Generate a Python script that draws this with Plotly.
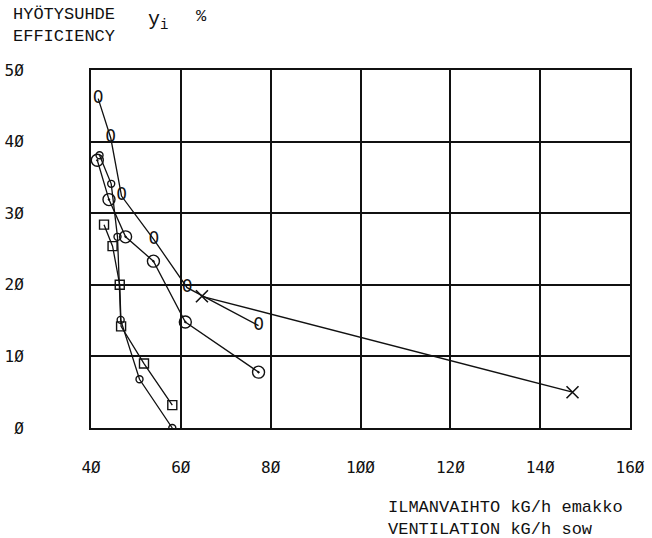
import plotly.graph_objects as go

# Ventilation (kG/h per sow) and efficiency y_i (%) for each measured series
oval_x = [41.6, 44.4, 46.8, 54.0, 61.4, 77.3]
oval_y = [46.0, 40.5, 32.4, 26.3, 19.6, 14.3]

small_x = [41.9, 44.5, 45.9, 46.6, 50.8, 58.1]
small_y = [38.1, 34.1, 26.7, 15.1, 6.8, 0.0]

dot_x = [41.4, 44.0, 47.7, 53.9, 61.0, 77.3]
dot_y = [37.4, 31.9, 26.7, 23.3, 14.8, 7.8]

sq_x = [42.9, 44.8, 46.4, 46.7, 51.8, 58.1]
sq_y = [28.4, 25.4, 20.0, 14.2, 9.0, 3.2]

cross_x = [64.7, 147.2]
cross_y = [18.4, 5.0]

x_ticks = [40, 60, 80, 100, 120, 140, 160]
x_labels = ["4Ø", "6Ø", "8Ø", "1ØØ", "12Ø", "14Ø", "16Ø"]
y_ticks = [0, 10, 20, 30, 40, 50]
y_labels = ["Ø", "1Ø", "2Ø", "3Ø", "4Ø", "5Ø"]

INK = "#111111"
LINE = dict(color=INK, width=1.3)

fig = go.Figure()

# oval markers drawn as "0" glyphs centred on the points
fig.add_trace(go.Scatter(x=oval_x, y=oval_y, mode="lines", line=LINE,
                         hoverinfo="skip", showlegend=False))
fig.add_trace(go.Scatter(x=oval_x, y=oval_y, mode="text", text=["0"] * len(oval_x),
                         textposition="middle center",
                         textfont=dict(family="DejaVu Sans", size=17, color=INK),
                         showlegend=False))

fig.add_trace(go.Scatter(x=small_x, y=small_y, mode="lines+markers", line=LINE,
                         marker=dict(symbol="circle-open", size=7, color=INK,
                                     line=dict(width=1.4, color=INK)),
                         showlegend=False))

fig.add_trace(go.Scatter(x=dot_x, y=dot_y, mode="lines+markers", line=LINE,
                         marker=dict(symbol="circle-open-dot", size=12, color=INK,
                                     line=dict(width=1.4, color=INK)),
                         showlegend=False))

fig.add_trace(go.Scatter(x=sq_x, y=sq_y, mode="lines+markers", line=LINE,
                         marker=dict(symbol="square-open", size=9, color=INK,
                                     line=dict(width=1.4, color=INK)),
                         showlegend=False))

fig.add_trace(go.Scatter(x=cross_x, y=cross_y, mode="lines+markers", line=LINE,
                         marker=dict(symbol="x-thin-open", size=12, color=INK,
                                     line=dict(width=1.6, color=INK)),
                         showlegend=False))

tick_font = dict(family="DejaVu Sans Mono", size=16, color=INK)
type_font = dict(family="Liberation Mono", size=17, color=INK)

fig.update_xaxes(range=[40, 160], tickvals=x_ticks, ticktext=x_labels,
                 showgrid=True, gridcolor=INK, gridwidth=1.5,
                 showline=True, linecolor=INK, linewidth=2, mirror=True,
                 zeroline=False, ticks="", tickfont=tick_font,
                 ticklabelstandoff=24, automargin=False)
fig.update_yaxes(range=[0, 50], tickvals=y_ticks, ticktext=y_labels,
                 showgrid=True, gridcolor=INK, gridwidth=1.5,
                 showline=True, linecolor=INK, linewidth=2, mirror=True,
                 zeroline=False, ticks="", tickfont=tick_font,
                 ticklabelstandoff=62, automargin=False)

L, R, T, B = 91, 22, 70, 110
W, H = 652, 538
pw, ph = W - L - R, H - T - B


def px(xp, yp):
    return (xp - L) / pw, (H - B - yp) / ph


annots = []
for txt, xp, yp in [("HYÖTYSUHDE", 11, 15), ("EFFICIENCY", 11, 36),
                    ("%", 194, 16),
                    ("ILMANVAIHTO kG/h emakko", 386, 507),
                    ("VENTILATION kG/h sow", 386, 529)]:
    ax, ay = px(xp, yp)
    annots.append(dict(text=txt, x=ax, y=ay, xref="paper", yref="paper",
                       xanchor="left", yanchor="middle", showarrow=False,
                       font=type_font))
ax, ay = px(146, 20)
annots.append(dict(text="y<sub>i</sub>", x=ax, y=ay, xref="paper", yref="paper",
                   xanchor="left", yanchor="middle", showarrow=False,
                   font=dict(family="Liberation Mono", size=20, color=INK)))

fig.update_layout(width=W, height=H, margin=dict(l=L, r=R, t=T, b=B),
                  paper_bgcolor="white", plot_bgcolor="white",
                  annotations=annots, showlegend=False)

fig.write_html("out.html")
